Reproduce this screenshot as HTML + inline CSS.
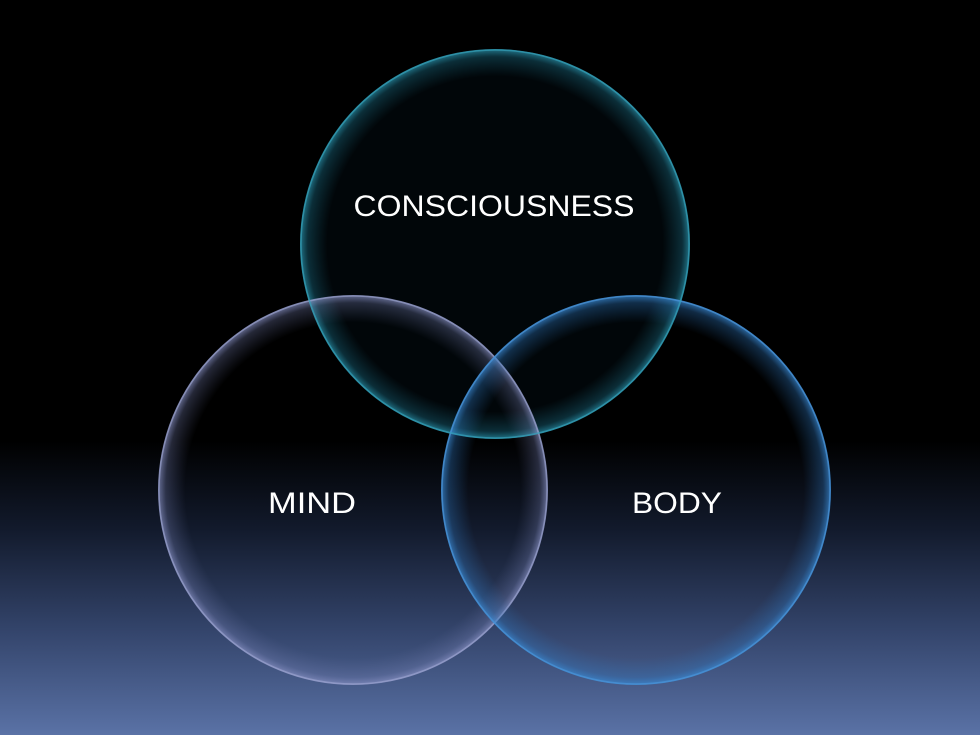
<!DOCTYPE html>
<html><head><meta charset="utf-8"><style>
html,body{margin:0;padding:0;width:980px;height:735px;overflow:hidden;background:#000}
</style></head><body>
<svg width="980" height="735" viewBox="0 0 980 735" xmlns="http://www.w3.org/2000/svg">
<defs>
<linearGradient id="bg" x1="0" y1="0" x2="0" y2="1">
<stop offset="0" stop-color="#000"/>
<stop offset="0.6" stop-color="#000"/>
<stop offset="0.72" stop-color="#121a2c"/>
<stop offset="0.86" stop-color="#34456c"/>
<stop offset="1" stop-color="#5a72a6"/>
</linearGradient>
<radialGradient id="gt" cx="0.5" cy="0.5" r="0.5">
<stop offset="0.86" stop-color="#1a6a80" stop-opacity="0"/>
<stop offset="0.96" stop-color="#1e7890" stop-opacity="0.35"/>
<stop offset="1" stop-color="#2a92aa" stop-opacity="0.8"/>
</radialGradient>
<radialGradient id="gl" cx="0.5" cy="0.5" r="0.5">
<stop offset="0.86" stop-color="#6670a0" stop-opacity="0"/>
<stop offset="0.96" stop-color="#7a84b8" stop-opacity="0.3"/>
<stop offset="1" stop-color="#8a92c4" stop-opacity="0.75"/>
</radialGradient>
<radialGradient id="gr" cx="0.5" cy="0.5" r="0.5">
<stop offset="0.86" stop-color="#2a6cb0" stop-opacity="0"/>
<stop offset="0.96" stop-color="#2f78c0" stop-opacity="0.35"/>
<stop offset="1" stop-color="#3a88d0" stop-opacity="0.8"/>
</radialGradient>
</defs>
<rect width="980" height="735" fill="url(#bg)"/>
<circle cx="495" cy="244" r="195" fill="#02080c" fill-opacity="0.75"/>
<circle cx="495" cy="244" r="195" fill="url(#gt)"/>
<circle cx="353" cy="490" r="195" fill="url(#gl)"/>
<circle cx="353" cy="490" r="194" fill="none" stroke="#a0a8d4" stroke-width="1.5" opacity="0.6"/>
<circle cx="636" cy="490" r="195" fill="url(#gr)"/>
<circle cx="636" cy="490" r="194" fill="none" stroke="#4a94d8" stroke-width="1.5" opacity="0.7"/>
<circle cx="495" cy="244" r="194" fill="none" stroke="#35a0b8" stroke-width="1.5" opacity="0.7"/>
<g font-family="Liberation Sans, sans-serif" font-size="30" fill="#fff">
<text x="494" y="216" text-anchor="middle" textLength="281" lengthAdjust="spacingAndGlyphs">CONSCIOUSNESS</text>
<text x="312" y="513" text-anchor="middle" textLength="88" lengthAdjust="spacingAndGlyphs">MIND</text>
<text x="677" y="513" text-anchor="middle" textLength="90" lengthAdjust="spacingAndGlyphs">BODY</text>
</g>
</svg>
</body></html>
